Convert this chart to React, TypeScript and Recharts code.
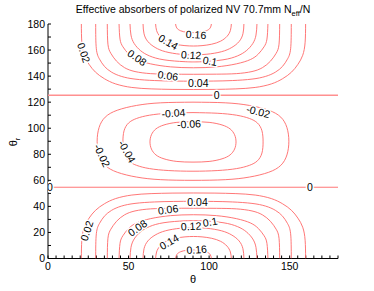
import React from 'react';
import { ScatterChart, Scatter, XAxis, YAxis, Customized } from 'recharts';

const FONT = '"Liberation Sans", Arial, Helvetica, sans-serif';
const RED = '#ff6868';

// tick values
const xTicks = [0,5,10,15,20,25,30,35,40,45,50,55,60,65,70,75,80,85,90,95,100,105,110,115,120,125,130,135,140,145,150,155,160,165,170,175,180];
const xLabels = [0, 50, 100, 150];
const yTicks = [0,10,20,30,40,50,60,70,80,90,100,110,120,130,140,150,160,170,180];
const yLabels = [0, 20, 40, 60, 80, 100, 120, 140, 160, 180];
const yRightTicks = [0,20,40,60,80,100,120,140,160,180];

// contour lines, [theta, theta_r]
const b02 = [[20.7,0],[21,14],[22.5,24],[25.5,31],[29.5,37],[35,42],[42,46],[52,48.7],[64,49.8],[77,50.2],[90.3,50.3],[103.6,50.2],[116.6,49.8],[128.6,48.7],[138.6,46],[145.6,42],[151.1,37],[155.1,31],[158.1,24],[159.6,14],[159.9,0]];
const b04 = [[29.6,0],[30,19],[32,27],[35,32.5],[39.5,37],[45.5,40.2],[54,42.3],[66,43.4],[78,43.8],[90.3,43.9],[102.6,43.8],[114.6,43.4],[126.6,42.3],[135.1,40.2],[141.1,37],[145.6,32.5],[148.6,27],[150.6,19],[151,0]];
const b06 = [[36.8,0],[37.2,15.5],[39,22.5],[42.5,28.5],[47.5,33.5],[54,36.5],[63.7,38.1],[76,38.5],[90.3,38.6],[104.6,38.5],[116.9,38.1],[126.6,36.5],[133.1,33.5],[138.1,28.5],[141.6,22.5],[143.4,15.5],[143.8,0]];
const b08 = [[44.1,0],[44.7,11.6],[46.5,17.5],[50,23],[55,27.3],[63.7,30.6],[76.1,32.9],[90.3,33.6],[104.5,32.9],[116.9,30.6],[125.6,27.3],[130.6,23],[134.1,17.5],[135.9,11.6],[136.5,0]];
const b10 = [[50.9,0],[51.5,8.5],[53.5,15],[57.5,20.5],[63,24.5],[72,27.5],[84.4,28.9],[90.3,29.1],[96.2,28.9],[108.6,27.5],[117.6,24.5],[123.1,20.5],[127.1,15],[129.1,8.5],[129.7,0]];
const b12 = [[59,0],[59.6,7.5],[62,13.5],[66.5,18],[73,21.3],[82,23.2],[90.3,23.7],[98.6,23.2],[107.6,21.3],[114.1,18],[118.6,13.5],[121,7.5],[121.6,0]];
const b14 = [[66.8,0],[67.4,5],[69.5,9.5],[73.5,13.2],[79,15.5],[85,16.6],[90.3,16.9],[95.6,16.6],[101.6,15.5],[107.1,13.2],[111.1,9.5],[113.2,5],[113.8,0]];
const b16 = [[79.2,0],[79.9,3],[82.3,5.2],[86,6.3],[90.3,6.6],[94.6,6.3],[98.3,5.2],[100.7,3],[101.4,0]];

const t02 = [[20.7,180],[21,166],[22.5,156],[25.5,149],[29.5,143],[35,138],[42,134],[52,131.3],[64,130.2],[77,129.8],[90.3,129.7],[103.6,129.8],[116.6,130.2],[128.6,131.3],[138.6,134],[145.6,138],[151.1,143],[155.1,149],[158.1,156],[159.6,166],[159.9,180]];
const t04 = [[29.6,180],[30,161],[32,153],[35,147.5],[39.5,143],[45.5,139.8],[54,137.7],[66,136.6],[78,136.2],[90.3,136.1],[102.6,136.2],[114.6,136.6],[126.6,137.7],[135.1,139.8],[141.1,143],[145.6,147.5],[148.6,153],[150.6,161],[151,180]];
const t06 = [[36.8,180],[37.2,164.5],[39,157.5],[42.5,151.5],[47.5,146.5],[54,143.5],[63.7,141.9],[76,141.5],[90.3,141.4],[104.6,141.5],[116.9,141.9],[126.6,143.5],[133.1,146.5],[138.1,151.5],[141.6,157.5],[143.4,164.5],[143.8,180]];
const t08 = [[44.1,180],[44.7,168.4],[46.5,162.5],[50,157],[55,152.7],[63.7,149.4],[76.1,147.1],[90.3,146.4],[104.5,147.1],[116.9,149.4],[125.6,152.7],[130.6,157],[134.1,162.5],[135.9,168.4],[136.5,180]];
const t10 = [[50.9,180],[51.5,171.5],[53.5,165],[57.5,159.5],[63,155.5],[72,152.5],[84.4,151.1],[90.3,150.9],[96.2,151.1],[108.6,152.5],[117.6,155.5],[123.1,159.5],[127.1,165],[129.1,171.5],[129.7,180]];
const t12 = [[59,180],[59.6,172.5],[62,166.5],[66.5,162],[73,158.7],[82,156.8],[90.3,156.3],[98.6,156.8],[107.6,158.7],[114.1,162],[118.6,166.5],[121,172.5],[121.6,180]];
const t14 = [[66.8,180],[67.4,175],[69.5,170.5],[73.5,166.8],[79,164.5],[85,163.4],[90.3,163.1],[95.6,163.4],[101.6,164.5],[107.1,166.8],[111.1,170.5],[113.2,175],[113.8,180]];
const t16 = [[79.2,180],[79.9,177],[82.3,174.8],[86,173.7],[90.3,173.4],[94.6,173.7],[98.3,174.8],[100.7,177],[101.4,180]];

const m02 = [[90,120],[70,119.5],[55,117.5],[43,113.8],[35.5,108.5],[31.7,100.5],[30.5,90],[31.7,79.5],[35.5,71.5],[43,66.2],[55,62.5],[70,60.5],[90,60],[110,60.5],[125,62.5],[137,66.2],[144.5,71.5],[148.3,79.5],[149.5,90],[148.3,100.5],[144.5,108.5],[137,113.8],[125,117.5],[110,119.5],[90,120]];
const m04 = [[90,112],[75,111.5],[63,110],[55,107.5],[50,104],[47.2,98],[46.5,89.5],[47.2,81],[50,75],[55,71.5],[63,69],[75,67.5],[90,67],[105,67.5],[117,69],[125,71.5],[130,75],[132.8,81],[133.5,89.5],[132.8,98],[130,104],[125,107.5],[117,110],[105,111.5],[90,112]];
const m06 = [[90,105],[80,104.5],[72,102.5],[67,99.5],[64.2,95],[63.3,89.5],[64.2,84],[67,79.5],[72,76.5],[80,74.5],[90,74],[100,74.5],[108,76.5],[113,79.5],[115.8,84],[116.7,89.5],[115.8,95],[113,99.5],[108,102.5],[100,104.5],[90,105]];

const z1 = [[0,54.7],[180,54.7]];
const z2 = [[0,125.3],[180,125.3]];

// contour labels: theta, theta_r, text, rotation
const labelT = [24, 74.5, 55.4, 75.1, 92.3, 92.8, 88.8, 100.6, 1.2, 162.6, 104.7, 33.7, 49.2, 77.8, 87.5, 130.5, 91.9, 74.7, 88.8, 100.6, 55.4, 74.5, 93.3, 22.3];
const labelR = [21.3, 37.7, 23.6, 12.9, 7.0, 43.6, 24.9, 28.2, 54.7, 54.7, 125.3, 79.1, 82.2, 111.8, 103.4, 112.9, 172, 166.3, 156.3, 151.7, 154.3, 140.5, 134.6, 158];
const labelText = ['0.02','0.06','0.08','0.14','0.16','0.04','0.12','0.1','0','0','0','-0.02','-0.04','-0.04','-0.06','-0.02','0.16','0.14','0.12','0.1','0.08','0.06','0.04','0.02'];
const labelAngle = [-72, -8, -35, -30, -4, 0, -3, -10, 0, 0, 0, 65, 60, -4, -3, 15, 4, 30, 3, 10, 35, 8, 0, 72];

const lines = [b02,b04,b06,b08,b10,b12,b14,b16,t02,t04,t06,t08,t10,t12,t14,t16,m02,m04,m06];

const toPts = (a: number[][]) => a.map(([t, r]) => ({ t, r }));
const labelData = labelT.map((t, i) => ({ t, r: labelR[i], s: labelText[i], a: labelAngle[i] }));

const Empty = () => <g />;

const LabelShape = (props: any) => {
  const { cx, cy, payload } = props;
  return (
    <text
      x={cx}
      y={cy}
      transform={`rotate(${payload.a} ${cx} ${cy})`}
      textAnchor="middle"
      dominantBaseline="central"
      fontSize={10.5}
      fontFamily={FONT}
      fill="#000"
      stroke="#fff"
      strokeWidth={3}
      paintOrder="stroke"
    >
      {payload.s}
    </text>
  );
};

const Texts = () => (
  <g fontFamily={FONT} fill="#000">
    <text x={193} y={13} textAnchor="middle" fontSize={10.5}>
      Effective absorbers of polarized NV 70.7mm N<tspan fontSize={7.5} dy={3}>eff</tspan><tspan dy={-3}>/N</tspan>
    </text>
    <text x={193} y={283} textAnchor="middle" fontSize={11}>θ</text>
    <text transform="translate(17,142) rotate(-90)" x={0} y={0} textAnchor="middle" fontSize={11}>
      θ<tspan fontSize={7.5} dy={2.5}>r</tspan>
    </text>
  </g>
);

const fmtX = (v: number) => (xLabels.includes(v) ? String(v) : '');
const fmtY = (v: number) => (yLabels.includes(v) ? String(v) : '');

export default function App() {
  return (
    <div style={{ position: 'absolute', left: 0, top: 0, width: 374, height: 291, background: '#fff' }}>
      <ScatterChart width={374} height={291} margin={{ top: 24, right: 36, bottom: 0, left: 0 }}>
        <XAxis
          type="number" dataKey="t" domain={[0, 180]} ticks={xTicks} interval={0} tickFormatter={fmtX}
          tickSize={-3} tickMargin={7.5} height={32.5} allowDataOverflow
          axisLine={{ stroke: '#000' }} tickLine={{ stroke: '#000' }}
          tick={{ fontSize: 10.5, fill: '#000', fontFamily: FONT }}
        />
        <XAxis
          xAxisId="top" orientation="top" type="number" domain={[0, 180]} height={0}
          tick={false} tickLine={false} axisLine={{ stroke: '#000' }}
        />
        <YAxis
          type="number" dataKey="r" domain={[0, 180]} ticks={yTicks} interval={0} tickFormatter={fmtY}
          tickSize={-3} tickMargin={6} width={48} allowDataOverflow
          axisLine={{ stroke: '#000' }} tickLine={{ stroke: '#000' }}
          tick={{ fontSize: 10.5, fill: '#000', fontFamily: FONT }}
        />
        <YAxis
          yAxisId="right" orientation="right" type="number" domain={[0, 180]} ticks={yRightTicks} interval={0}
          tick={false} tickSize={-3} width={0}
          axisLine={{ stroke: '#000' }} tickLine={{ stroke: '#000' }}
        />
        {lines.map((d, i) => (
          <Scatter key={i} data={toPts(d)} line={{ stroke: RED, strokeWidth: 0.9 }} lineJointType="natural"
            shape={Empty} isAnimationActive={false} />
        ))}
        <Scatter data={toPts(z1)} line={{ stroke: RED, strokeWidth: 0.9 }} shape={Empty} isAnimationActive={false} />
        <Scatter data={toPts(z2)} line={{ stroke: '#ff9090', strokeWidth: 1.6 }} shape={Empty} isAnimationActive={false} />
        <Scatter data={labelData} shape={LabelShape} isAnimationActive={false} />
        <Customized component={Texts} />
      </ScatterChart>
    </div>
  );
}
